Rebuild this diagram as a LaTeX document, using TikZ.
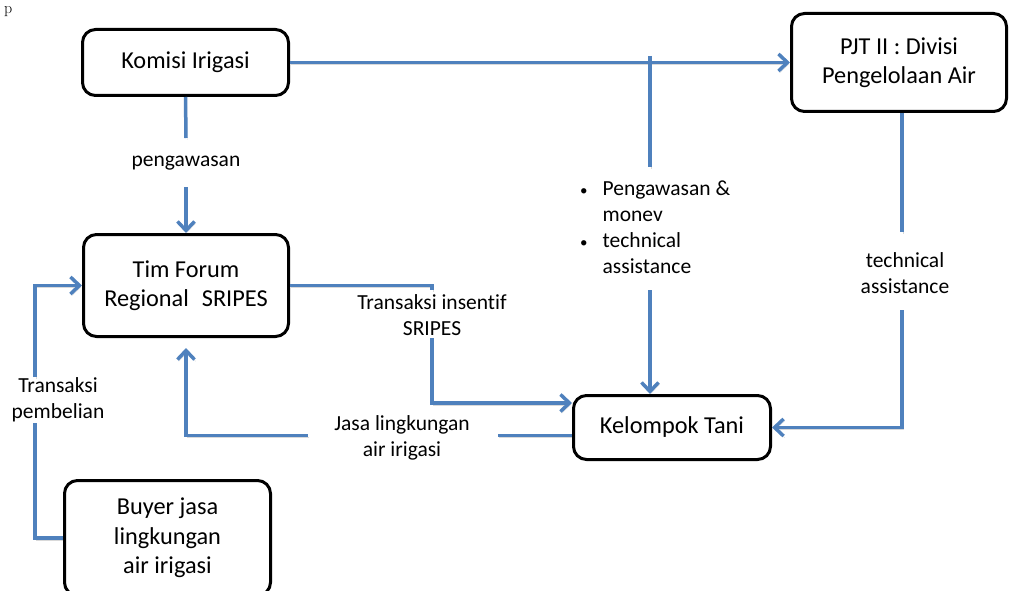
\documentclass[tikz,border=0pt]{standalone}
\usepackage{fontspec}
\setmainfont{Carlito}[Ligatures={NoCommon}]
\newfontfamily\lmr{Latin Modern Roman}
\usetikzlibrary{arrows.meta}
\definecolor{conncol}{RGB}{79,129,189}
\begin{document}
\begin{tikzpicture}[x=1pt,y=-1pt,
 box/.style={draw=black, line width=3pt, rounded corners=13pt, align=center, inner sep=0pt, font=\fontsize{24.3}{29.5}\selectfont},
 lbl/.style={align=center, inner sep=0pt, font=\fontsize{21.5}{26}\selectfont},
 cn/.style={draw=conncol, line width=3.5pt, preaction={draw=black, opacity=0.15, transform canvas={shift={(1.2pt,-1.8pt)}}}},
 arr/.style={-{Straight Barb[length=9pt,width=17pt]}}
]
\useasboundingbox (0,0) rectangle (1009,591);
\clip (0,0) rectangle (1009,591);

\node[anchor=base west, inner sep=0pt, font=\lmr\fontsize{16}{19}\selectfont] (pfrag) at (4,14) {p};

% boxes
\node[box, minimum width=206pt, minimum height=66pt] (komisi) at (185.5,62.5) {Komisi Irigasi};
\node[box, minimum width=215pt, minimum height=98pt] (pjt) at (899,62.5) {PJT II : Divisi\\Pengelolaan Air};
\node[box, minimum width=205pt, minimum height=102pt] (tim) at (186,285.5) {Tim Forum\\Regional\hspace*{13pt}SRIPES};
\node[box, minimum width=197pt, minimum height=64pt] (kel) at (672,427.5) {Kelompok Tani};
\node[box, minimum width=206pt, minimum height=115pt] (buyer) at (167.5,538) {Buyer jasa\\lingkungan\\air irigasi};

% labels
\node[lbl] (peng) at (186,163) {pengawasan};
\node[lbl] (ta) at (905,273) {technical\\assistance};
\node[lbl] (tis) at (432,315) {Transaksi insentif\\SRIPES};
\node[lbl] (jasa) at (402,438) {Jasa lingkungan\\air irigasi};
\node[lbl] (tp) at (58,400) {Transaksi\\pembelian};
\node[lbl, anchor=west, align=left] (bul) at (580,229) {\begin{tabular}{@{}l@{\hspace{15pt}}l@{}}{\fontsize{15}{26}\selectfont\textbullet} & Pengawasan \&\\ & monev\\ {\fontsize{15}{26}\selectfont\textbullet} & technical\\ & assistance\end{tabular}};

% coordinates
\coordinate (j1) at (650,56);
\coordinate (j2) at (650,167);
\coordinate (j3) at (650,290);
\coordinate (p1) at (902,232);
\coordinate (p2) at (902,310);
\coordinate (p3) at (902,427.5);
\coordinate (k1) at (186,138);
\coordinate (k2) at (186,187);
\coordinate (s1) at (432,290);
\coordinate (s2) at (432,338);
\coordinate (s3) at (432,403);
\coordinate (u1) at (498,435.5);
\coordinate (u2) at (308,435.5);
\coordinate (u3) at (186,435.5);
\coordinate (b1) at (35,538);
\coordinate (b2) at (35,423);
\coordinate (b3) at (35,377);

% connectors
\draw[cn,arr] (komisi.east) -- (pjt.west);
\draw[cn] (j1) -- (j2);
\draw[cn,arr] (j3) -- (j3 |- kel.north);

\draw[cn] (pjt.south -| p1) -- (p1);
\draw[cn,arr] (p2) -- (p3) -- (kel.east);

\draw[cn] (komisi.south) -- (k1);
\draw[cn,arr] (k2) -- (tim.north);

\draw[cn] (tim.east) -- (tim.east -| s1) -- (s1);
\draw[cn,arr] (s2) -- (s3) -- (s3 -| kel.west);

\draw[cn] (u1 -| kel.west) -- (u1);
\draw[cn,arr,shorten >=10pt] (u2) -- (u3) -- (tim.south);

\draw[cn] (buyer.west) -- (b1) -- (b2);
\draw[cn,arr] (b3) -- (b3 |- tim.west) -- (tim.west);
\end{tikzpicture}
\end{document}
